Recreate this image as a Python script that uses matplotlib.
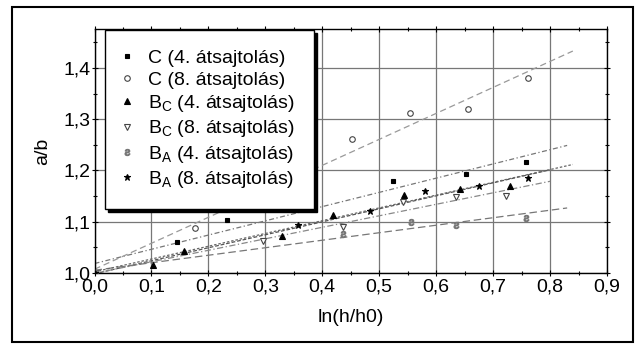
import numpy as np
import matplotlib
matplotlib.use("Agg")
import matplotlib.pyplot as plt
from matplotlib.patches import Rectangle

plt.rcParams['font.family'] = ['Liberation Sans', 'DejaVu Sans']
plt.rcParams['mathtext.default'] = 'regular'

# ---- data ----
labels = ['C (4. átsajtolás)', 'C (8. átsajtolás)',
          r'B$_C$ (4. átsajtolás)', r'B$_C$ (8. átsajtolás)',
          r'B$_A$ (4. átsajtolás)', r'B$_A$ (8. átsajtolás)']

c4_x = [0.0, 0.145, 0.233, 0.525, 0.653, 0.757]
c4_y = [1.000, 1.060, 1.103, 1.179, 1.194, 1.217]

c8_x = [0.0, 0.177, 0.452, 0.554, 0.656, 0.762]
c8_y = [1.000, 1.088, 1.262, 1.312, 1.320, 1.380]

bc4_x = [0.0, 0.103, 0.157, 0.330, 0.418, 0.544, 0.642, 0.729]
bc4_y = [1.000, 1.016, 1.042, 1.073, 1.113, 1.153, 1.163, 1.169]

bc8_x = [0.0, 0.296, 0.437, 0.542, 0.634, 0.723]
bc8_y = [1.000, 1.062, 1.089, 1.138, 1.148, 1.150]

ba4_x = [0.0, 0.437, 0.556, 0.635, 0.757]
ba4_y = [1.000, 1.076, 1.099, 1.094, 1.107]

ba8_x = [0.0, 0.358, 0.483, 0.581, 0.676, 0.762]
ba8_y = [1.000, 1.093, 1.120, 1.159, 1.169, 1.186]

fit_end = [0.83, 0.84, 0.80, 0.80, 0.83, 0.84]

xs = [c4_x, c8_x, bc4_x, bc8_x, ba4_x, ba8_x]
ys = [c4_y, c8_y, bc4_y, bc8_y, ba4_y, ba8_y]

# ---- styles ----
markers = ['s', 'o', '^', 'v', '$ƨ$', '*']
mfaces = ['black', 'white', 'black', 'white', '#777777', 'black']
medges = ['black', '#444444', 'black', '#444444', '#777777', 'black']
msizes = [3.5, 4, 4, 4, 4.5, 4.5]
lstyles = [(0, (4, 2, 1, 2)), (0, (5, 3)), (0, (3, 1.5)), (0, (5, 2, 1, 2)),
           (0, (6, 3)), (0, (2, 1.5))]
lcolors = ['#777777', '#999999', '#555555', '#888888', '#777777', '#666666']

fig = plt.figure(figsize=(6.37, 3.46), dpi=100)
fig.patches.append(Rectangle((12 / 637, 4 / 346), 621 / 637, 335 / 346,
                             transform=fig.transFigure, fill=False,
                             edgecolor='black', linewidth=1.5))

ax = fig.add_axes([94.5 / 637, (346 - 273) / 346, 512.5 / 637, 244 / 346])
ax.set_xlim(0, 0.9)
ax.set_ylim(1.0, 1.476)

ax.set_xticks(np.arange(0, 0.91, 0.1))
ax.set_yticks([1.0, 1.1, 1.2, 1.3, 1.4])
ax.set_xticks(np.arange(0.05, 0.9, 0.1), minor=True)
ax.set_yticks(np.arange(1.05, 1.48, 0.1), minor=True)
ax.set_xticklabels([f'{v:.1f}'.replace('.', ',') for v in np.arange(0, 0.91, 0.1)], fontsize=14)
ax.set_yticklabels([f'{v:.1f}'.replace('.', ',') for v in [1.0, 1.1, 1.2, 1.3, 1.4]], fontsize=14)
ax.tick_params(which='both', direction='inout', top=True, right=True, width=0.8)
ax.tick_params(which='major', length=5)
ax.tick_params(which='minor', length=3)
ax.tick_params(axis='y', pad=0.5)
ax.tick_params(axis='x', pad=1.5)

ax.grid(True, which='major', color='#777777', linewidth=0.9)
for s in ax.spines.values():
    s.set_linewidth(1.0)

for i in range(6):
    x = np.array(xs[i]); y = np.array(ys[i])
    k, b = np.polyfit(x, y, 1)
    lx = np.array([0.0, fit_end[i]])
    ax.plot(lx, k * lx + b, linestyle=lstyles[i], color=lcolors[i], linewidth=0.9, zorder=2)
    ax.plot(x, y, linestyle='none', marker=markers[i], markersize=msizes[i],
            markerfacecolor=mfaces[i], markeredgecolor=medges[i],
            markeredgewidth=0.8, label=labels[i], zorder=3)

ax.set_xlabel('ln(h/h0)', fontsize=14, labelpad=10)
ax.set_ylabel('a/b', fontsize=14, labelpad=9)

leg = ax.legend(loc='upper left', bbox_to_anchor=(0.02, 0.996), borderaxespad=0,
                fontsize=14, frameon=True, fancybox=False, edgecolor='black',
                shadow={'color': 'black', 'alpha': 1.0},
                handletextpad=0.9, labelspacing=0.22, borderpad=1.0,
                handlelength=0.3)
leg.get_frame().set_linewidth(1.0)
leg.set_zorder(5)

fig.savefig('out.png', dpi=100)
